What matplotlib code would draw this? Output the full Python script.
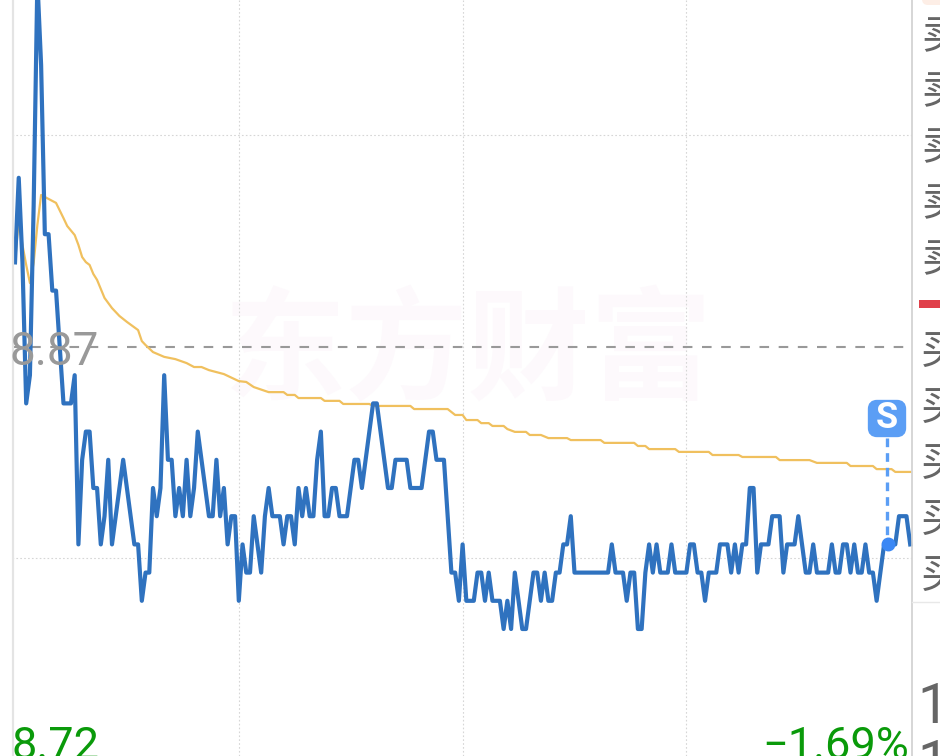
import numpy as np
import matplotlib
matplotlib.use("Agg")
import matplotlib.pyplot as plt
from matplotlib.patches import FancyBboxPatch, Rectangle

# minute prices, one per minute of the session
price = [
    8.90, 8.93, 8.90, 8.85, 8.86, 8.92, 9.00, 8.97, 8.91, 8.91,
    8.89, 8.89, 8.87, 8.85, 8.85, 8.85, 8.86, 8.80, 8.83, 8.84,
    8.84, 8.82, 8.82, 8.80, 8.81, 8.83, 8.80, 8.81, 8.82, 8.83,
    8.82, 8.81, 8.80, 8.80, 8.78, 8.79, 8.79, 8.82, 8.81, 8.82,
    8.86, 8.83, 8.83, 8.81, 8.82, 8.81, 8.83, 8.81, 8.82, 8.84,
    8.83, 8.82, 8.81, 8.81, 8.83, 8.81, 8.82, 8.80, 8.81, 8.81,
    8.78, 8.80, 8.79, 8.79, 8.81, 8.80, 8.79, 8.81, 8.82, 8.81,
    8.81, 8.81, 8.80, 8.81, 8.81, 8.80, 8.82, 8.81, 8.82, 8.81,
    8.81, 8.83, 8.84, 8.81, 8.81, 8.82, 8.82, 8.81, 8.81, 8.81,
    8.82, 8.83, 8.83, 8.82, 8.83, 8.84, 8.85, 8.85, 8.84, 8.83,
    8.82, 8.82, 8.83, 8.83, 8.83, 8.83, 8.82, 8.82, 8.82, 8.82,
    8.83, 8.84, 8.84, 8.83, 8.83, 8.83, 8.81, 8.79, 8.79, 8.78,
    8.80, 8.78, 8.78, 8.78, 8.79, 8.79, 8.78, 8.79, 8.78, 8.78,
    8.78, 8.77, 8.78, 8.77, 8.79, 8.78, 8.77, 8.77, 8.78, 8.79,
    8.79, 8.78, 8.79, 8.78, 8.78, 8.79, 8.79, 8.80, 8.80, 8.81,
    8.79, 8.79, 8.79, 8.79, 8.79, 8.79, 8.79, 8.79, 8.79, 8.79,
    8.80, 8.79, 8.79, 8.79, 8.78, 8.79, 8.79, 8.77, 8.77, 8.79,
    8.80, 8.79, 8.80, 8.79, 8.79, 8.79, 8.80, 8.79, 8.79, 8.79,
    8.79, 8.80, 8.80, 8.79, 8.79, 8.78, 8.79, 8.79, 8.79, 8.80,
    8.80, 8.80, 8.79, 8.80, 8.79, 8.80, 8.80, 8.82, 8.82, 8.79,
    8.80, 8.80, 8.80, 8.81, 8.81, 8.81, 8.79, 8.80, 8.80, 8.80,
    8.81, 8.80, 8.79, 8.79, 8.80, 8.79, 8.79, 8.79, 8.79, 8.80,
    8.79, 8.79, 8.80, 8.80, 8.79, 8.80, 8.79, 8.79, 8.80, 8.79,
    8.79, 8.78, 8.79, 8.80, 8.80, 8.80, 8.80, 8.81, 8.81, 8.81, 8.80,
]

# average price, read at the minutes where it changes direction
avg_minute = [
    0, 1, 2, 3, 4, 5, 6, 7, 8, 11, 13, 14, 16, 17, 18, 19, 20, 21, 22, 24,
    26, 28, 30, 33, 34, 35, 37, 40, 43, 46, 48, 50, 52, 56, 60, 62, 64, 68,
    72, 73, 75, 76, 82, 83, 87, 88, 95, 96, 106, 107, 116, 118, 120, 121,
    124, 125, 127, 128, 131, 132, 134, 137, 138, 141, 143, 148, 149, 157,
    158, 166, 167, 169, 170, 177, 178, 186, 187, 194, 195, 204, 205, 213,
    215, 223, 224, 230, 231, 235, 236, 240,
]
avg_price = [
    8.9001, 8.9150, 8.9062, 8.8991, 8.8927, 8.8998, 8.9133, 8.9239, 8.9232,
    8.9211, 8.9157, 8.9129, 8.9097, 8.9062, 8.9019, 8.9001, 8.8991, 8.8959,
    8.8938, 8.8874, 8.8838, 8.8810, 8.8789, 8.8760, 8.8721, 8.8707, 8.8682,
    8.8665, 8.8657, 8.8643, 8.8629, 8.8629, 8.8618, 8.8604, 8.8579, 8.8576,
    8.8558, 8.8540, 8.8540, 8.8530, 8.8530, 8.8519, 8.8519, 8.8509, 8.8509,
    8.8498, 8.8498, 8.8491, 8.8491, 8.8480, 8.8480, 8.8459, 8.8459, 8.8441,
    8.8441, 8.8430, 8.8430, 8.8420, 8.8420, 8.8409, 8.8399, 8.8399, 8.8388,
    8.8388, 8.8377, 8.8377, 8.8370, 8.8370, 8.8360, 8.8360, 8.8349, 8.8349,
    8.8338, 8.8338, 8.8328, 8.8328, 8.8317, 8.8317, 8.8310, 8.8310, 8.8299,
    8.8299, 8.8289, 8.8289, 8.8278, 8.8278, 8.8267, 8.8267, 8.8257, 8.8257,
]

prev_close = 8.87
hour_marks = [60, 120, 180]
grid_prices = [8.9452, 8.7952]
sell_labels = ["卖", "卖", "卖", "卖", "卖"]
buy_labels = ["买", "买", "买", "买", "买"]
signal_minute = 234
low_label = "8.72"
low_pct = "\u22121.69%"
prev_label = "8.87"

cjk = ["Noto Sans CJK SC", "DejaVu Sans"]

fig = plt.figure(figsize=(9.4, 7.56), dpi=100)
ax = fig.add_axes([0, 0, 1, 1])
ax.set_xlim(-15 / 3.73, 925 / 3.73)
ax.set_ylim(prev_close - 409 / 2820, prev_close + 347 / 2820)
ax.axis("off")

# second layer in pixels for the furniture round the plot
px = fig.add_axes([0, 0, 1, 1], zorder=3)
px.set_xlim(0, 940)
px.set_ylim(756, 0)
px.axis("off")
px.patch.set_alpha(0)

ax.text(121.5, prev_close - 0.0025, "东方财富", family=cjk, fontweight="bold", fontsize=88,
        color="#fdf9fc", ha="center", va="center", zorder=0)

for m in hour_marks:
    ax.axvline(m, color="#d6d6d6", lw=0.8, ls=(0, (1.5, 2)), zorder=1)
for g in grid_prices:
    ax.plot([-0.8, 240.25], [g, g], color="#d6d6d6", lw=0.8, ls=(0, (1.5, 2)), zorder=1)

ax.plot([-0.8, 240.25], [prev_close, prev_close], color="#999999", lw=1.5,
        ls=(0, (4.6, 4.6)), zorder=2)

ax.plot(avg_minute, avg_price, color="#f0c05e", lw=1.6, zorder=3)
ax.plot(np.arange(len(price)), price, color="#2f72bf", lw=3.0, zorder=4)

# signal marker on the last stretch
sig_x = 15 + 3.73 * signal_minute
ax.plot([signal_minute], [price[signal_minute]], "o", ms=9, color="#3b88f5", zorder=5)
px.plot([sig_x - 1, sig_x - 1], [438, 540], color="#5b9ef5", lw=2.4, ls=(0, (2.6, 1.8)))
px.add_patch(FancyBboxPatch((872, 404), 30, 29, boxstyle="round,pad=0,rounding_size=5",
                            mutation_aspect=1, fc="#5b9ef5", ec="#5b9ef5", lw=6))
px.text(887, 418, "S", color="white", fontsize=26, fontweight="bold", family="Roboto",
        ha="center", va="center")

# plot borders
px.plot([12.5, 12.5], [0, 756], color="#e4e4e4", lw=1.6)
px.plot([911.5, 911.5], [0, 756], color="#cfcfcf", lw=1.2)
px.plot([912, 940], [602, 602], color="#e8e8e8", lw=1)

# labels
px.text(10, 365, prev_label, family="Roboto", fontsize=33, color="#999999", ha="left", va="baseline")
px.text(12, 759, low_label, family="Roboto", fontsize=32.5, color="#0a9a0a", ha="left", va="baseline")
px.text(909, 759, low_pct, family="Roboto", fontsize=32.5, color="#0a9a0a", ha="right", va="baseline")

# order book column, cut off by the right edge
for y, s in zip([37, 92, 148, 204, 260], sell_labels):
    px.text(921, y, s, family=cjk, fontsize=30, color="#666666", ha="left", va="center", clip_on=False)
for y, s in zip([352, 408, 464, 520, 576], buy_labels):
    px.text(921, y, s, family=cjk, fontsize=30, color="#666666", ha="left", va="center", clip_on=False)
px.text(917, 723, "1", family="Roboto", fontsize=40, color="#666666", ha="left", va="baseline")
px.text(917, 780, "1", family="Roboto", fontsize=40, color="#666666", ha="left", va="baseline")

px.add_patch(Rectangle((919, 300), 21, 8, fc="#e0404a", ec="none"))
px.add_patch(FancyBboxPatch((922, -8), 30, 13, boxstyle="round,pad=0,rounding_size=6",
                            fc="#fdeee6", ec="none"))

fig.savefig("out.png", dpi=100)
